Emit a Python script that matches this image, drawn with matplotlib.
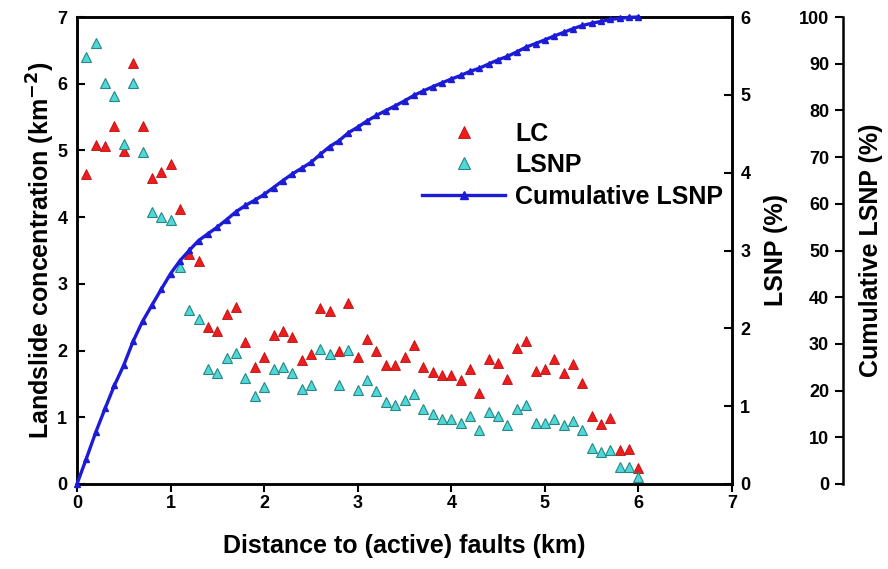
import matplotlib
matplotlib.use("Agg")
import matplotlib.pyplot as plt
from matplotlib.lines import Line2D

plt.rcParams['font.family'] = ['Liberation Sans', 'DejaVu Sans']
plt.rcParams['font.weight'] = 'bold'
plt.rcParams['mathtext.default'] = 'bf'

distance = [round(0.1 * i, 1) for i in range(1, 61)]

lc = [4.65, 5.08, 5.06, 5.37, 4.99, 6.31, 5.37, 4.59, 4.68, 4.79,
      4.12, 3.45, 3.34, 2.36, 2.29, 2.55, 2.65, 2.13, 1.76, 1.91,
      2.24, 2.29, 2.20, 1.86, 1.95, 2.64, 2.59, 1.99, 2.71, 1.91,
      2.17, 1.99, 1.79, 1.79, 1.91, 2.08, 1.76, 1.68, 1.63, 1.64,
      1.56, 1.72, 1.37, 1.87, 1.82, 1.58, 2.04, 2.14, 1.70, 1.72,
      1.87, 1.67, 1.80, 1.52, 1.02, 0.90, 0.99, 0.51, 0.52, 0.24]

lsnp = [5.49, 5.66, 5.15, 4.99, 4.37, 5.15, 4.26, 3.50, 3.43, 3.39,
        2.79, 2.24, 2.12, 1.48, 1.43, 1.62, 1.68, 1.36, 1.13, 1.25,
        1.48, 1.50, 1.43, 1.22, 1.27, 1.74, 1.67, 1.27, 1.72, 1.21,
        1.34, 1.19, 1.05, 1.02, 1.08, 1.16, 0.97, 0.90, 0.84, 0.83,
        0.78, 0.87, 0.69, 0.92, 0.88, 0.76, 0.97, 1.01, 0.79, 0.79,
        0.84, 0.76, 0.81, 0.69, 0.46, 0.41, 0.44, 0.22, 0.22, 0.09]

cum_distance = [0.0] + distance
cum_lsnp = [0.0,
            5.45, 11.06, 16.17, 21.13, 25.46, 30.57, 34.80, 38.27, 41.68, 45.04,
            47.81, 50.03, 52.14, 53.60, 55.02, 56.63, 58.30, 59.65, 60.77, 62.01,
            63.48, 64.97, 66.38, 67.60, 68.86, 70.58, 72.24, 73.50, 75.21, 76.41,
            77.74, 78.92, 79.96, 80.97, 82.04, 83.20, 84.16, 85.05, 85.89, 86.71,
            87.48, 88.35, 89.03, 89.94, 90.82, 91.57, 92.53, 93.54, 94.32, 95.10,
            95.94, 96.69, 97.49, 98.18, 98.64, 99.05, 99.48, 99.70, 99.92, 100.0]

x_ticks = [0, 1, 2, 3, 4, 5, 6, 7]
lc_ticks = [0, 1, 2, 3, 4, 5, 6, 7]
lsnp_ticks = [0, 1, 2, 3, 4, 5, 6]
cum_ticks = [0, 10, 20, 30, 40, 50, 60, 70, 80, 90, 100]

red = '#ee1c1c'
red_edge = '#b81010'
cyan = '#4fd8d8'
cyan_edge = '#2a8585'
blue = '#1c1cd6'

fig = plt.figure(figsize=(8.88, 5.69), dpi=100)
ax = fig.add_axes([77/888, 1 - 484/569, 655/888, 467/569])
ax2 = ax.twinx()
ax3 = ax.twinx()

tick_fs = 13
label_fs = 18

# LC on left axis
ax.plot(distance, lc, linestyle='none', marker='^', markersize=7,
        markerfacecolor=red, markeredgecolor=red_edge, markeredgewidth=0.6,
        clip_on=False, zorder=3)
ax.set_xlim(0, 7)
ax.set_ylim(0, 7)
ax.set_xticks(x_ticks)
ax.set_yticks(lc_ticks)
ax.tick_params(axis='x', direction='out', length=6, width=1.5, labelsize=tick_fs, pad=2)
ax.tick_params(axis='y', direction='in', length=6, width=1.5, labelsize=tick_fs, pad=7)
for lab in ax.get_xticklabels() + ax.get_yticklabels():
    lab.set_fontweight('bold')
ax.set_xlabel('Distance to (active) faults (km)', fontsize=label_fs, fontweight='bold', labelpad=16)
ax.set_ylabel('Landslide concentration (km$^{-2}$)', fontsize=label_fs, fontweight='bold', labelpad=0)
for s in ax.spines.values():
    s.set_linewidth(1.8)

# LSNP on right axis
ax2.plot(distance, lsnp, linestyle='none', marker='^', markersize=7,
         markerfacecolor=cyan, markeredgecolor=cyan_edge, markeredgewidth=0.8,
         clip_on=False, zorder=3)
ax2.set_ylim(0, 6)
ax2.set_yticks(lsnp_ticks)
ax2.tick_params(axis='y', direction='in', length=6, width=1.5, labelsize=tick_fs, pad=6)
for lab in ax2.get_yticklabels():
    lab.set_fontweight('bold')
ax2.set_ylabel('LSNP (%)', fontsize=label_fs, fontweight='bold')
ax2.yaxis.set_label_coords((764 - 77) / 655, 0.5)
for s in ax2.spines.values():
    s.set_linewidth(1.8)

# Cumulative on third axis (spine detached, labels on its left)
ax3.plot(cum_distance, cum_lsnp, color=blue, linewidth=2.4, marker='^', markersize=4.5,
         markerfacecolor=blue, markeredgecolor=blue, clip_on=False, zorder=4)
ax3.set_ylim(0, 100)
ax3.set_yticks(cum_ticks)
ax3.yaxis.tick_left()
for k in ['top', 'bottom', 'right']:
    ax3.spines[k].set_visible(False)
ax3.spines['left'].set_visible(True)
ax3.spines['left'].set_position(('axes', (843 - 77) / 655))
ax3.spines['left'].set_linewidth(1.8)
ax3.tick_params(axis='y', direction='out', length=6, width=1.5, labelsize=tick_fs, pad=4)
for lab in ax3.get_yticklabels():
    lab.set_fontweight('bold')
ax3.set_ylabel('Cumulative LSNP (%)', fontsize=label_fs, fontweight='bold')
ax3.yaxis.set_label_coords((859 - 77) / 655, 0.5)

handles = [
    Line2D([], [], linestyle='none', marker='^', markersize=9, markerfacecolor=red,
           markeredgecolor=red_edge, markeredgewidth=0.6),
    Line2D([], [], linestyle='none', marker='^', markersize=9, markerfacecolor=cyan,
           markeredgecolor=cyan_edge, markeredgewidth=0.8),
    Line2D([], [], color=blue, linewidth=2.4, marker='^', markersize=6,
           markerfacecolor=blue, markeredgecolor=blue),
]
labels = ['LC', 'LSNP', 'Cumulative LSNP']
leg = ax3.legend(handles, labels, loc='upper left', bbox_to_anchor=(0.493, 0.824),
                 frameon=False, handlelength=3.3, handletextpad=0.4,
                 labelspacing=0.3, numpoints=1, prop={'weight': 'bold', 'size': label_fs})

fig.savefig('out.png', dpi=100)
